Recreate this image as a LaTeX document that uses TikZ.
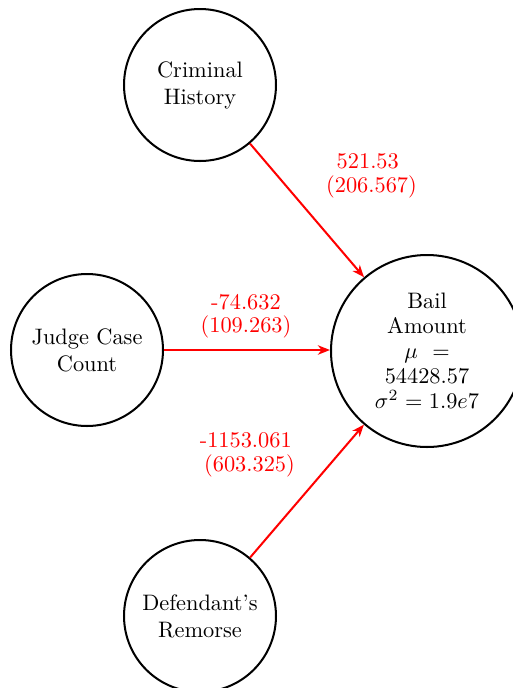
\documentclass[tikz,border=0pt]{standalone}
\usetikzlibrary{arrows.meta}
\begin{document}
\begin{tikzpicture}[x=0.4472pt,y=-0.4472pt,
  var/.style={draw=black,line width=0.9pt,circle,minimum size=67.97pt,inner sep=0pt,align=center},
  outvar/.style={var,minimum size=85.86pt,text width=48pt},
  edge/.style={draw=red,line width=0.9pt,-{Stealth[length=5.4pt,width=4.2pt,inset=1.6pt]}},
  wlabel/.style={text=red,align=center,inner sep=0pt}]
\useasboundingbox (0,0) rectangle (513,688);
\node[var] (crim) at (200,85) {Criminal\\History};
\node[var] (judge) at (87,350) {Judge Case\\Count};
\node[var] (def) at (200,616) {Defendant's\\Remorse};
\node[outvar] (bail) at (427,351) {Bail\\[-0.8pt]Amount\\[-0.8pt]$\mu$\hspace{6.5pt}=\\[-0.8pt]54428.57\\[-0.8pt]$\sigma^2 = 1.9e7$};
\draw[edge] (crim) -- (bail);
\draw[edge] (judge) -- (judge -| bail.west);
\draw[edge] (def) -- (bail);
\node[wlabel] (l1) at (371.5,176) {521.53\hspace*{3.33pt}\\[-1.5pt](206.567)};
\node[wlabel] (l2) at (246,316) {-74.632\\[-1.5pt](109.263)};
\node[wlabel] (l3) at (249.5,455) {-1153.061\hspace*{3.33pt}\\[-1.5pt](603.325)};
\end{tikzpicture}
\end{document}
